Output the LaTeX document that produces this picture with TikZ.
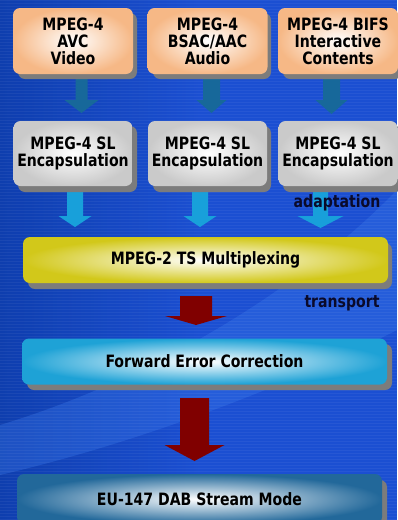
\documentclass[tikz,border=0pt]{standalone}
\usepackage{fontspec}
\setmainfont{DejaVu Sans Condensed}[FakeStretch=0.92]
\usetikzlibrary{calc}
\definecolor{bgblue}{HTML}{1B4FD2}
\definecolor{bgdark}{HTML}{0B3AA6}
\definecolor{bglight}{HTML}{3A78EA}
\definecolor{peach}{HTML}{F6B886}
\definecolor{grayedge}{HTML}{CACACA}
\definecolor{yel}{HTML}{D2C81A}
\definecolor{cyanbox}{HTML}{1EA2D6}
\definecolor{steel}{HTML}{22689A}
\definecolor{teal}{HTML}{17689A}
\definecolor{ltblue}{HTML}{18A0DA}
\definecolor{dred}{HTML}{800000}
\definecolor{shadowgray}{HTML}{7C7C7C}
\definecolor{navy}{HTML}{0A0A2A}
\tikzset{
  boxbase/.style={rounded corners=7pt, align=center, inner sep=0pt},
  peachbox/.style={boxbase, inner color=white, outer color=peach, minimum width=120pt, minimum height=66pt, font=\bfseries\fontsize{17}{17}\selectfont},
  graybox/.style={boxbase, inner color=white, outer color=grayedge, minimum width=119pt, minimum height=65pt, font=\bfseries\fontsize{17}{17}\selectfont},
  widebox/.style={boxbase, minimum width=365pt, minimum height=46pt, font=\bfseries\fontsize{17}{17}\selectfont},
  lbl/.style={font=\bfseries\fontsize{17}{17}\selectfont, text=navy},
}
% block arrow: x-center, y-top, y-headstart, y-tip, shaft half, head half, color
\newcommand{\blockarrow}[7]{%
  \fill[#7] (#1-#5,#2) -- (#1+#5,#2) -- (#1+#5,#3) -- (#1+#6,#3) -- (#1,#4)
    -- (#1-#6,#3) -- (#1-#5,#3) -- cycle;}
\begin{document}
\begin{tikzpicture}[x=1pt,y=-1pt]
\useasboundingbox (0,0) rectangle (397,520);
% background
\fill[bgblue] (0,0) rectangle (397,520);
\shade[left color=bgdark, right color=bgblue, opacity=0.8] (0,0) rectangle (200,520);
\fill[bglight, opacity=0.35] (0,425) .. controls (150,380) and (300,290) .. (397,190)
  -- (397,330) .. controls (300,380) and (150,440) .. (0,475) -- cycle;
\foreach \yy in {0,3,...,520} {\draw[white, opacity=0.05, line width=0.8pt] (0,\yy) -- (397,\yy);}
% arrows row 1 (teal)
\blockarrow{81.5}{70}{100}{113}{6}{17}{teal}
\blockarrow{211.5}{70}{100}{113}{8.5}{15}{teal}
\blockarrow{331.5}{70}{100}{114}{8.5}{16}{teal}
% arrows row 2 (light blue)
\blockarrow{75}{185}{216}{227}{8}{16.5}{ltblue}
\blockarrow{200}{185}{216}{227}{8}{16.5}{ltblue}
\blockarrow{320.5}{185}{216}{228}{7.5}{23}{ltblue}
% red arrows
\blockarrow{196}{296}{316}{325}{16}{31}{dred}
\blockarrow{194.5}{398}{445}{461}{14.5}{30}{dred}
% shadows
\fill[shadowgray, rounded corners=7pt] (18,13) rectangle (137,79);
\fill[shadowgray, rounded corners=7pt] (153,13) rectangle (271,79);
\fill[shadowgray, rounded corners=7pt] (283,13) rectangle (402,79);
\fill[shadowgray, rounded corners=7pt] (18,126) rectangle (137,192);
\fill[shadowgray, rounded corners=7pt] (153,126) rectangle (271,192);
\fill[shadowgray, rounded corners=7pt] (283,126) rectangle (402,192);
\fill[shadowgray, rounded corners=7pt] (28,243) rectangle (392,289);
\fill[shadowgray, rounded corners=7pt] (27,344) rectangle (392,390);
\fill[shadowgray, rounded corners=7pt] (22,480) rectangle (387,530);
% top boxes
\node[peachbox] (a1) at (73,41) {MPEG-4\\AVC\\Video};
\node[peachbox] (a2) at (207.5,41) {MPEG-4\\BSAC/AAC\\Audio};
\node[peachbox] (a3) at (338,41) {MPEG-4 BIFS\\Interactive\\Contents};
% second row
\node[graybox] (b1) at (73,153.5) {MPEG-4 SL\\Encapsulation};
\node[graybox] (b2) at (207.5,153.5) {MPEG-4 SL\\Encapsulation};
\node[graybox] (b3) at (338,153.5) {MPEG-4 SL\\Encapsulation};
\node[lbl] (adapt) at (337,203) {adaptation};
% wide boxes
\node[widebox, inner color=white, outer color=yel] (mux) at (205.5,260) {MPEG-2 TS Multiplexing};
\node[lbl] (transp) at (342,303) {transport};
\node[widebox, inner color=white, outer color=cyanbox] (fec) at (204.5,361.5) {Forward Error Correction};
\node[widebox, minimum height=50pt, inner color=white, outer color=steel] (dab) at (199.5,499) {EU-147 DAB Stream Mode};
\end{tikzpicture}
\end{document}
